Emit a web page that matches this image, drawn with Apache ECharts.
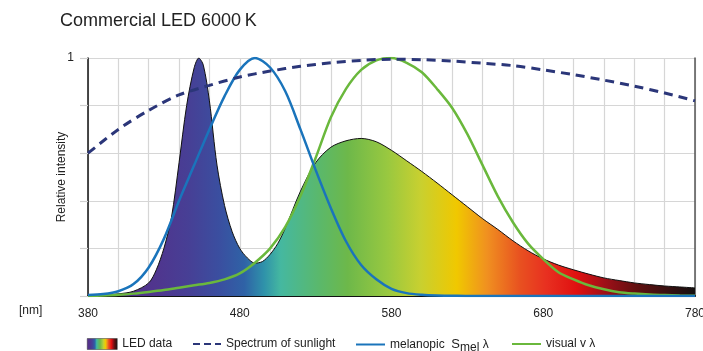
<!DOCTYPE html>
<html>
<head>
<meta charset="utf-8">
<script src="https://cdn.jsdelivr.net/npm/echarts@6/dist/echarts.min.js"></script>
<style>
  html, body { margin: 0; padding: 0; background: #fff; }
  #chart { width: 703px; height: 351px; }
</style>
</head>
<body>
<div id="chart"></div>
<script>
// LED spectrum (wavelength in nm, relative intensity)
const ledNm = [380, 390, 400, 410, 420, 425, 430, 435, 440, 445, 450, 453, 456, 460, 465, 470, 475, 480, 485, 490, 495, 500, 505, 510, 520, 530, 540, 550, 560, 570, 580, 590, 600, 610, 620, 630, 640, 650, 660, 670, 680, 690, 700, 710, 720, 730, 740, 750, 760, 770, 780];
const ledVal = [0.003, 0.005, 0.009, 0.02, 0.055, 0.11, 0.2, 0.33, 0.56, 0.8, 0.96, 1.0, 0.97, 0.82, 0.55, 0.38, 0.27, 0.2, 0.16, 0.138, 0.145, 0.175, 0.22, 0.285, 0.44, 0.56, 0.625, 0.652, 0.662, 0.648, 0.612, 0.568, 0.523, 0.475, 0.425, 0.375, 0.325, 0.28, 0.232, 0.19, 0.156, 0.13, 0.11, 0.092, 0.076, 0.065, 0.055, 0.048, 0.042, 0.038, 0.034];

// sunlight spectrum
const sunNm = [380, 400, 420, 440, 460, 480, 500, 520, 540, 560, 580, 600, 620, 640, 660, 680, 700, 720, 740, 760, 780];
const sunVal = [0.6, 0.7, 0.78, 0.845, 0.885, 0.92, 0.945, 0.965, 0.98, 0.99, 0.995, 0.993, 0.987, 0.978, 0.968, 0.95, 0.93, 0.907, 0.882, 0.853, 0.82];

// melanopic and visual curves, 10 nm steps
const curveNm = [380, 390, 400, 410, 420, 430, 440, 450, 460, 470, 480, 490, 500, 510, 520, 530, 540, 550, 560, 570, 580, 590, 600, 610, 620, 630, 640, 650, 660, 670, 680, 690, 700, 710, 720, 730, 740, 750, 760, 770, 780];
const melVal = [0.004, 0.008, 0.02, 0.05, 0.12, 0.24, 0.4, 0.55, 0.7, 0.84, 0.95, 1.0, 0.96, 0.86, 0.7, 0.53, 0.37, 0.23, 0.13, 0.07, 0.03, 0.012, 0.005, 0.002, 0.001, 0, 0, 0, 0, 0, 0, 0, 0, 0, 0, 0, 0, 0, 0, 0, 0];
const visVal = [0, 0.002, 0.005, 0.01, 0.017, 0.025, 0.035, 0.045, 0.055, 0.07, 0.095, 0.14, 0.2, 0.29, 0.42, 0.58, 0.75, 0.87, 0.95, 0.99, 1.0, 0.98, 0.94, 0.87, 0.79, 0.68, 0.55, 0.42, 0.31, 0.22, 0.155, 0.1, 0.07, 0.045, 0.028, 0.016, 0.01, 0.006, 0.004, 0.002, 0.001];

const xTickLabels = [380, 480, 580, 680, 780];

function pairs(xs, ys) {
  return xs.map((x, i) => [x, ys[i]]);
}

// spectral colours along the wavelength axis
const spectrumStops = [
  { offset: 0, color: '#552d8a' },
  { offset: 0.11, color: '#50358e' },
  { offset: 0.165, color: '#473f95' },
  { offset: 0.2175, color: '#3a4fa0' },
  { offset: 0.2575, color: '#2f62a6' },
  { offset: 0.29, color: '#2f92aa' },
  { offset: 0.3175, color: '#45b8a0' },
  { offset: 0.3825, color: '#5bb86a' },
  { offset: 0.4275, color: '#6db84a' },
  { offset: 0.4925, color: '#98c840' },
  { offset: 0.5475, color: '#c8d030' },
  { offset: 0.6075, color: '#f0c800' },
  { offset: 0.6575, color: '#f09020' },
  { offset: 0.7125, color: '#e85020' },
  { offset: 0.755, color: '#e83020' },
  { offset: 0.805, color: '#e01010' },
  { offset: 0.85, color: '#a01018' },
  { offset: 0.905, color: '#601010' },
  { offset: 1, color: '#151010' }
];

const FONT = 'Liberation Sans, Arial, sans-serif';

const chart = echarts.init(document.getElementById('chart'));

const legendText = {
  fontFamily: FONT,
  fontSize: 12,
  color: '#222',
  rich: {
    s: { fontSize: 13, color: '#222', fontFamily: FONT },
    sub: { fontSize: 12, color: '#222', padding: [6, 0, 0, 0], fontFamily: FONT }
  }
};

chart.setOption({
  animation: false,
  title: {
    text: 'Commercial LED 6000\u2009K',
    left: 55,
    top: 7,
    textStyle: { fontFamily: FONT, fontSize: 18, fontWeight: 'normal', color: '#222' }
  },
  grid: { left: 88, right: 8, top: 58, bottom: 55, outerBoundsMode: 'none' },
  legend: [
    {
      left: 87, top: 338, padding: 0, itemWidth: 30, itemHeight: 11,
      textStyle: legendText,
      data: [{
        name: 'LED data', icon: 'rect',
        itemStyle: { color: new echarts.graphic.LinearGradient(0, 0, 1, 0, spectrumStops), borderColor: '#333', borderWidth: 0.5 }
      }]
    },
    {
      left: 192, top: 338, padding: 0, itemWidth: 28, itemHeight: 11,
      textStyle: legendText,
      data: [{ name: 'Spectrum of sunlight', itemStyle: { opacity: 0 }, lineStyle: { type: [7, 4] } }]
    },
    {
      left: 355, top: 338, padding: 0, itemWidth: 29, itemHeight: 11,
      textStyle: legendText,
      formatter: () => 'melanopic  {s|S}{sub|mel} λ',
      data: [{ name: 'melanopic Smel λ', itemStyle: { opacity: 0 } }]
    },
    {
      left: 511, top: 338, padding: 0, itemWidth: 29, itemHeight: 11,
      textStyle: legendText,
      data: [{ name: 'visual v λ', itemStyle: { opacity: 0 } }]
    }
  ],
  graphic: [{
    type: 'text',
    left: 19,
    top: 305,
    style: { text: '[nm]', fontFamily: FONT, fontSize: 12, fill: '#222' }
  }],
  xAxis: {
    type: 'value',
    min: 380,
    max: 780,
    interval: 20,
    axisLine: { show: true, lineStyle: { color: '#111', width: 2 } },
    axisTick: { show: false },
    axisLabel: {
      margin: 12,
      fontFamily: FONT,
      fontSize: 12,
      color: '#222',
      formatter: v => (xTickLabels.indexOf(v) >= 0 ? String(v) : '')
    },
    splitLine: { show: true, lineStyle: { color: '#d6d6d6', width: 1.2 } }
  },
  yAxis: [
    {
      type: 'value',
      min: 0,
      max: 1,
      interval: 0.2,
      name: 'Relative intensity',
      nameLocation: 'middle',
      nameGap: 20,
      nameMoveOverlap: false,
      nameTextStyle: { fontFamily: FONT, fontSize: 12, color: '#222' },
      axisLine: { show: true, lineStyle: { color: '#111', width: 1.5 } },
      axisTick: { show: true, length: 8, lineStyle: { color: '#cfcfcf', width: 1.2 } },
      axisLabel: {
        margin: 14,
        fontFamily: FONT,
        fontSize: 12,
        color: '#222',
        formatter: v => (v === 1 ? '1' : '')
      },
      splitLine: { show: true, lineStyle: { color: '#d6d6d6', width: 1.2 } }
    },
    {
      type: 'value',
      position: 'right',
      min: 0,
      max: 1,
      axisLine: { show: true, lineStyle: { color: '#555', width: 1.5 } },
      axisTick: { show: false },
      axisLabel: { show: false },
      splitLine: { show: false }
    }
  ],
  series: [
    {
      name: 'LED data',
      type: 'line',
      data: pairs(ledNm, ledVal),
      smooth: 0.3,
      symbol: 'none',
      z: 1,
      lineStyle: { color: '#111', width: 1 },
      itemStyle: { color: '#111' },
      areaStyle: { color: new echarts.graphic.LinearGradient(0, 0, 1, 0, spectrumStops), opacity: 1 }
    },
    {
      name: 'visual v λ',
      type: 'line',
      data: pairs(curveNm, visVal),
      smooth: 0.3,
      symbol: 'none',
      z: 2,
      lineStyle: { color: '#6ab83c', width: 2.5 },
      itemStyle: { color: '#6ab83c' }
    },
    {
      name: 'melanopic Smel λ',
      type: 'line',
      data: pairs(curveNm, melVal),
      smooth: 0.3,
      symbol: 'none',
      z: 3,
      lineStyle: { color: '#1a74bb', width: 2.5 },
      itemStyle: { color: '#1a74bb' }
    },
    {
      name: 'Spectrum of sunlight',
      type: 'line',
      data: pairs(sunNm, sunVal),
      smooth: 0.3,
      symbol: 'none',
      z: 4,
      lineStyle: { color: '#2b3679', width: 3, type: [9, 6] },
      itemStyle: { color: '#2b3679' }
    }
  ]
});
</script>
</body>
</html>
